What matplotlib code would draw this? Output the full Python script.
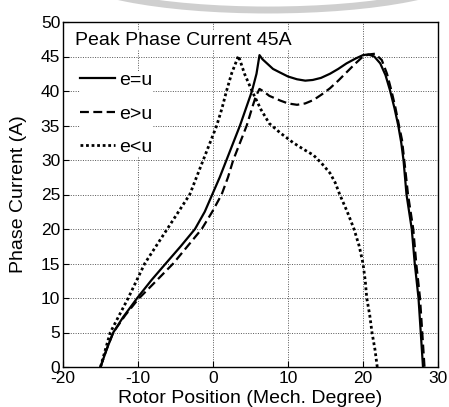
import matplotlib
matplotlib.use("Agg")
import matplotlib.pyplot as plt
from matplotlib.patches import Arc

plt.rcParams['font.family'] = ['Liberation Sans', 'DejaVu Sans']
plt.rcParams['axes.unicode_minus'] = False

# ---- data ----
x_eq = [-15, -14.2, -13.3, -12, -10.1, -8.2, -6.3, -4.3, -2.4, -1.1, -0.1, 0.9, 1.8,
        2.7, 3.6, 4.4, 5.2, 5.8, 6.2, 6.6, 7.2, 8, 8.9, 10, 11.2, 12.3, 13.3, 14.4,
        15.6, 16.7, 17.8, 19, 20, 20.7, 21.5, 22.3, 23, 23.6, 24.2, 24.7, 25.1,
        25.4, 25.6, 25.8, 26.5, 26.9, 27.4, 27.7, 28.0]
y_eq = [0, 2.5, 5, 7.2, 10, 12.6, 15, 17.5, 20, 22.5, 25, 27.5, 30,
        32.5, 35, 37.5, 40, 42.5, 45.2, 44.6, 44.0, 43.2, 42.7, 42.1, 41.7, 41.5, 41.6, 41.9,
        42.5, 43.2, 44.0, 44.7, 45.2, 45.3, 45.0, 44.0, 42.3, 40.1, 37.5, 35, 32.5,
        30, 27.5, 25, 20, 15, 10, 5, 0]

x_gt = [-15, -14.2, -13.3, -11.7, -10, -8, -5.3, -3.4, -1.5, -0.1, 1.15, 2.0, 2.7,
        3.6, 4.5, 5.2, 5.7, 6.2, 6.8, 7.5, 9, 10, 11.2, 12.3, 13.4, 14.5, 15.6,
        16.7, 17.8, 19, 20, 20.8, 21.6, 22.5, 23.2, 23.8, 24.3, 24.8, 25.2, 25.6,
        26.0, 26.7, 27.1, 27.6, 27.9, 28.2]
y_gt = [0, 2.5, 5, 7.5, 9.8, 12.0, 15, 17.5, 20, 22.5, 25, 27.5, 30,
        32.5, 35, 37.5, 39.2, 40.3, 39.9, 39.3, 38.6, 38.2, 38.0, 38.2, 38.7, 39.5, 40.4,
        41.5, 42.7, 44.0, 45.0, 45.3, 45.4, 44.5, 42.5, 40.0, 37.7, 35, 32.9, 29,
        25, 20, 15, 10, 5, 0]

x_lt = [-15, -13.7, -12.5, -11.3, -10.2, -9.1, -7.6, -6.1, -4.6, -3.1, -2.2, -1.3,
        -0.4, 0.5, 1.2, 1.8, 2.5, 3.4, 4.2, 5.2, 6.4, 7.5, 9, 10.7, 12, 13.4, 14.5,
        15.6, 16.3, 16.9, 17.9, 18.8, 19.5, 20.0, 20.3, 20.5, 20.9, 21.2, 21.6, 21.9]
y_lt = [0, 5, 7.5, 10, 12.5, 15, 17.5, 20, 22.5, 25, 27.5, 30,
        32.5, 35, 37.5, 40, 42.6, 45.1, 42.5, 40, 37.3, 35.3, 33.9, 32.5, 31.6, 30.7, 29.5,
        28.1, 26.7, 25, 22.5, 20, 17.5, 15, 12.5, 10, 7.5, 5, 2.5, 0]

labels = ['e=u', 'e>u', 'e<u']
x_ticks = [-20, -10, 0, 10, 20, 30]
y_ticks = [0, 5, 10, 15, 20, 25, 30, 35, 40, 45, 50]
title_text = 'Peak Phase Current 45A'

# ---- figure ----
W, H = 449, 407
fig = plt.figure(figsize=(W / 100, H / 100), dpi=100)
fig.patch.set_facecolor('white')

# faint background arc (scan artifact)
arc = Arc((268, H + 30), 400, 80, theta1=180, theta2=360, transform=None,
          color='#cfcfcf', lw=5, zorder=0)
fig.patches.append(arc)

ax = fig.add_axes([63 / W, 1 - 367 / H, (438 - 63) / W, (367 - 22) / H])
ax.set_facecolor('white')

ax.plot(x_eq, y_eq, color='black', lw=1.6, ls='-', label=labels[0])
ax.plot(x_gt, y_gt, color='black', lw=1.6, ls=(0, (4, 2)), label=labels[1])
ax.plot(x_lt, y_lt, color='black', lw=2.0, ls=(0, (1, 1)), label=labels[2])

ax.set_xlim(-20, 30)
ax.set_ylim(0, 50)
ax.set_xticks(x_ticks)
ax.set_yticks(y_ticks)
ax.tick_params(direction='in', length=4, width=0.8, labelsize=12.5, pad=2)
ax.tick_params(axis='x', pad=3)
ax.grid(True, color='#555555', ls=(0, (1, 1.5)), lw=0.7)
ax.set_axisbelow(True)
for s in ax.spines.values():
    s.set_linewidth(1.0)
    s.set_color('black')

ax.set_xlabel('Rotor Position (Mech. Degree)', fontsize=14)
ax.xaxis.set_label_coords(0.5, -0.068)
ax.set_ylabel('Phase Current (A)', fontsize=14)
ax.yaxis.set_label_coords(-0.095, 0.5)

ax.text(0.032, 0.933, title_text, transform=ax.transAxes, fontsize=14,
        va='baseline', ha='left', bbox=dict(facecolor='white', edgecolor='none', pad=0.5))

leg = ax.legend(loc='upper left', bbox_to_anchor=(0.045, 0.857), frameon=True,
                facecolor='white', edgecolor='none', framealpha=1,
                fontsize=14, handlelength=1.8, handletextpad=0.2,
                labelspacing=0.82, borderpad=0.0, borderaxespad=0)

fig.savefig('out.png', dpi=100, facecolor='white')
